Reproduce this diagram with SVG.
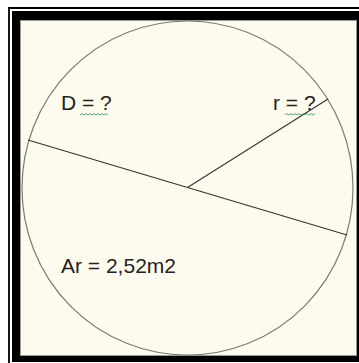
<svg xmlns="http://www.w3.org/2000/svg" width="359" height="363" viewBox="0 0 359 363">
<style>
.lbl{font-family:"Liberation Sans","Open Sans",Arial,sans-serif;font-size:21px;fill:#222}
.sq{fill:none;stroke:#5fa36a;stroke-width:1}
.ln{stroke:#333;stroke-width:1.1;fill:none}
</style>
<rect x="0" y="0" width="359" height="363" fill="#fff"/>
<path d="M9,363 V8 H359" fill="none" stroke="#000" stroke-width="1.8"/>
<rect x="12" y="11" width="347" height="351" fill="#000"/>
<rect x="20.5" y="20.5" width="336" height="335" fill="#fdfbee" stroke="#9a9a90" stroke-width="1"/>
<g id="circle">
<ellipse cx="187.5" cy="188" rx="165.5" ry="167" fill="none" stroke="#7a7a72" stroke-width="1.2"/>
</g>
<g id="connectors">
<line class="ln" x1="28" y1="140" x2="347" y2="235"/>
<line class="ln" x1="187.5" y1="187.5" x2="328" y2="99"/>
</g>
<g id="label-D">
<text class="lbl" x="61" y="110">D = ?</text>
<path class="sq" d="M80,115 l2,-1.4 2,1.4 2,-1.4 2,1.4 2,-1.4 2,1.4 2,-1.4 2,1.4 2,-1.4 2,1.4 2,-1.4 2,1.4 2,-1.4 2,1.4"/>
</g>
<g id="label-r">
<text class="lbl" x="273" y="110">r = ?</text>
<path class="sq" d="M285,115 l2,-1.4 2,1.4 2,-1.4 2,1.4 2,-1.4 2,1.4 2,-1.4 2,1.4 2,-1.4 2,1.4 2,-1.4 2,1.4 2,-1.4 2,1.4 2,-1.4"/>
</g>
<g id="label-Ar">
<text class="lbl" x="61" y="273">Ar = 2,52m2</text>
</g>
</svg>
